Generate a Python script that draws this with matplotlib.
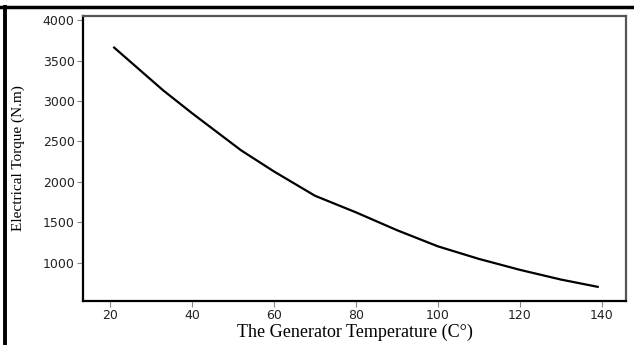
import numpy as np
import matplotlib.pyplot as plt
from matplotlib.lines import Line2D

# generator temperature (C) vs electrical torque (N.m)
temperature = [21, 33, 40, 52, 60, 70, 80, 90, 100, 110, 120, 130, 139]
torque = [3660, 3130, 2850, 2390, 2130, 1830, 1625, 1405, 1205, 1050, 915, 795, 705]

xticks = [20, 40, 60, 80, 100, 120, 140]
yticks = [1000, 1500, 2000, 2500, 3000, 3500, 4000]

fig = plt.figure(figsize=(6.34, 3.45), dpi=100)
ax = fig.add_axes([83 / 634, 1 - 301 / 345, (626 - 83) / 634, (301 - 16) / 345])

ax.plot(temperature, torque, color='black', linewidth=1.6)

ax.set_xlim(13.4, 145.9)
ax.set_ylim(530, 4050)
ax.set_xticks(xticks)
ax.set_yticks(yticks)
ax.tick_params(direction='out', length=4, width=0.8, color='#888888',
               labelsize=9, labelcolor='#222222', pad=2)

ax.spines['left'].set_color('black')
ax.spines['bottom'].set_color('black')
ax.spines['left'].set_linewidth(1.6)
ax.spines['bottom'].set_linewidth(1.6)
ax.spines['top'].set_color('#555555')
ax.spines['right'].set_color('#555555')
ax.spines['top'].set_linewidth(1.6)
ax.spines['right'].set_linewidth(1.6)

ax.set_xlabel('The Generator Temperature (C°)', family='Liberation Serif', size=13, labelpad=1)
ax.set_ylabel('Electrical Torque (N.m)', family='Liberation Serif', size=11)
ax.yaxis.set_label_coords(-0.107, 0.5)

# black frame lines at top and left of the picture
fig.add_artist(Line2D([0, 1], [1 - 6.5 / 345, 1 - 6.5 / 345], color='black', linewidth=2.5, transform=fig.transFigure))
fig.add_artist(Line2D([5 / 634, 5 / 634], [0, 1 - 6.5 / 345], color='black', linewidth=2.8, transform=fig.transFigure))

fig.savefig('out.png', dpi=100)
